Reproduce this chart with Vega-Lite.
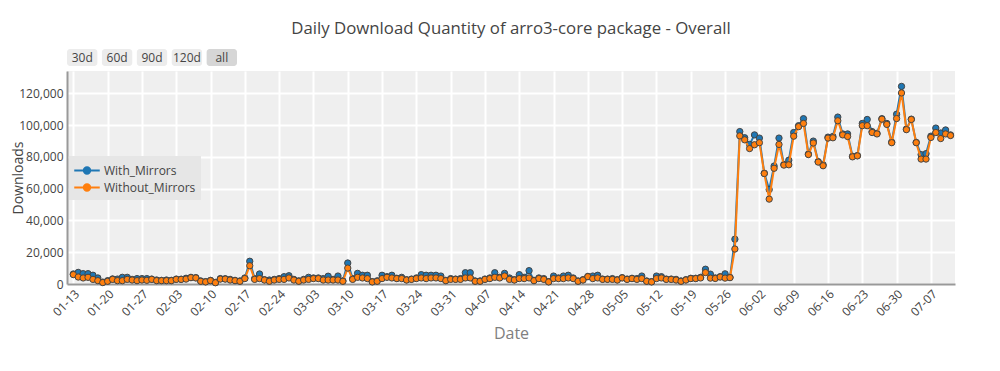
{
"$schema": "https://vega.github.io/schema/vega-lite/v6.json",
"autosize": {"type": "pad"},
"padding": {"left": 11, "top": 21, "right": 45, "bottom": 30},
"background": "white",
"bounds": "flush",
"spacing": 5,
"config": {
  "font": "Open Sans",
  "view": {"stroke": null},
  "axis": {"labelFont": "Open Sans", "labelFontSize": 12, "labelColor": "#444", "ticks": false, "gridColor": "#ffffff", "gridWidth": 2, "domainColor": "#999999", "domainWidth": 2, "titleFont": "Open Sans", "titleFontWeight": "normal"},
  "legend": {"labelFont": "Open Sans", "labelFontSize": 12, "labelColor": "#444"}
},
"vconcat": [
  {
    "width": 170, "height": 17,
    "data": {"values": [
      {"label": "30d", "state": "idle"},
      {"label": "60d", "state": "idle"},
      {"label": "90d", "state": "idle"},
      {"label": "120d", "state": "idle"},
      {"label": "all", "state": "active"}
    ]},
    "encoding": {"x": {"field": "label", "type": "nominal", "sort": null, "axis": null, "scale": {"paddingInner": 0.13, "paddingOuter": 0}}},
    "layer": [
      {"mark": {"type": "bar", "cornerRadius": 3}, "encoding": {"fill": {"field": "state", "type": "nominal", "scale": {"domain": ["idle", "active"], "range": ["#ececec", "#d6d6d6"]}, "legend": null}}},
      {"mark": {"type": "text", "fontSize": 12, "font": "Open Sans", "color": "#444"}, "encoding": {"text": {"field": "label"}}}
    ]
  },
  {
    "width": 888, "height": 213,
    "view": {"fill": "#efefef", "stroke": null},
    "title": {"text": "Daily Download Quantity of arro3-core package - Overall", "anchor": "middle", "frame": "group", "offset": 33, "fontSize": 16.8, "font": "Open Sans", "fontWeight": "normal", "color": "#444"},
    "data": {"values": [
{"date":"2025-01-13","series":"With_Mirrors","downloads":6300},
{"date":"2025-01-14","series":"With_Mirrors","downloads":7300},
{"date":"2025-01-15","series":"With_Mirrors","downloads":6500},
{"date":"2025-01-16","series":"With_Mirrors","downloads":6500},
{"date":"2025-01-17","series":"With_Mirrors","downloads":5500},
{"date":"2025-01-18","series":"With_Mirrors","downloads":3800},
{"date":"2025-01-19","series":"With_Mirrors","downloads":1200},
{"date":"2025-01-20","series":"With_Mirrors","downloads":2100},
{"date":"2025-01-21","series":"With_Mirrors","downloads":3200},
{"date":"2025-01-22","series":"With_Mirrors","downloads":3100},
{"date":"2025-01-23","series":"With_Mirrors","downloads":4200},
{"date":"2025-01-24","series":"With_Mirrors","downloads":4200},
{"date":"2025-01-25","series":"With_Mirrors","downloads":2900},
{"date":"2025-01-26","series":"With_Mirrors","downloads":3400},
{"date":"2025-01-27","series":"With_Mirrors","downloads":3400},
{"date":"2025-01-28","series":"With_Mirrors","downloads":3400},
{"date":"2025-01-29","series":"With_Mirrors","downloads":3100},
{"date":"2025-01-30","series":"With_Mirrors","downloads":2500},
{"date":"2025-01-31","series":"With_Mirrors","downloads":2300},
{"date":"2025-02-01","series":"With_Mirrors","downloads":2500},
{"date":"2025-02-02","series":"With_Mirrors","downloads":2300},
{"date":"2025-02-03","series":"With_Mirrors","downloads":3100},
{"date":"2025-02-04","series":"With_Mirrors","downloads":3000},
{"date":"2025-02-05","series":"With_Mirrors","downloads":3600},
{"date":"2025-02-06","series":"With_Mirrors","downloads":4200},
{"date":"2025-02-07","series":"With_Mirrors","downloads":4000},
{"date":"2025-02-08","series":"With_Mirrors","downloads":1900},
{"date":"2025-02-09","series":"With_Mirrors","downloads":1500},
{"date":"2025-02-10","series":"With_Mirrors","downloads":2300},
{"date":"2025-02-11","series":"With_Mirrors","downloads":1000},
{"date":"2025-02-12","series":"With_Mirrors","downloads":3400},
{"date":"2025-02-13","series":"With_Mirrors","downloads":3300},
{"date":"2025-02-14","series":"With_Mirrors","downloads":2900},
{"date":"2025-02-15","series":"With_Mirrors","downloads":2300},
{"date":"2025-02-16","series":"With_Mirrors","downloads":1900},
{"date":"2025-02-17","series":"With_Mirrors","downloads":3800},
{"date":"2025-02-18","series":"With_Mirrors","downloads":14300},
{"date":"2025-02-19","series":"With_Mirrors","downloads":3400},
{"date":"2025-02-20","series":"With_Mirrors","downloads":6300},
{"date":"2025-02-21","series":"With_Mirrors","downloads":2700},
{"date":"2025-02-22","series":"With_Mirrors","downloads":2500},
{"date":"2025-02-23","series":"With_Mirrors","downloads":2900},
{"date":"2025-02-24","series":"With_Mirrors","downloads":3400},
{"date":"2025-02-25","series":"With_Mirrors","downloads":4600},
{"date":"2025-02-26","series":"With_Mirrors","downloads":5200},
{"date":"2025-02-27","series":"With_Mirrors","downloads":2900},
{"date":"2025-02-28","series":"With_Mirrors","downloads":2000},
{"date":"2025-03-01","series":"With_Mirrors","downloads":2900},
{"date":"2025-03-02","series":"With_Mirrors","downloads":4200},
{"date":"2025-03-03","series":"With_Mirrors","downloads":3800},
{"date":"2025-03-04","series":"With_Mirrors","downloads":3800},
{"date":"2025-03-05","series":"With_Mirrors","downloads":3400},
{"date":"2025-03-06","series":"With_Mirrors","downloads":4900},
{"date":"2025-03-07","series":"With_Mirrors","downloads":2900},
{"date":"2025-03-08","series":"With_Mirrors","downloads":5000},
{"date":"2025-03-09","series":"With_Mirrors","downloads":2000},
{"date":"2025-03-10","series":"With_Mirrors","downloads":13200},
{"date":"2025-03-11","series":"With_Mirrors","downloads":3400},
{"date":"2025-03-12","series":"With_Mirrors","downloads":6700},
{"date":"2025-03-13","series":"With_Mirrors","downloads":5500},
{"date":"2025-03-14","series":"With_Mirrors","downloads":5500},
{"date":"2025-03-15","series":"With_Mirrors","downloads":1500},
{"date":"2025-03-16","series":"With_Mirrors","downloads":2000},
{"date":"2025-03-17","series":"With_Mirrors","downloads":5500},
{"date":"2025-03-18","series":"With_Mirrors","downloads":4600},
{"date":"2025-03-19","series":"With_Mirrors","downloads":5500},
{"date":"2025-03-20","series":"With_Mirrors","downloads":3600},
{"date":"2025-03-21","series":"With_Mirrors","downloads":4200},
{"date":"2025-03-22","series":"With_Mirrors","downloads":2700},
{"date":"2025-03-23","series":"With_Mirrors","downloads":3100},
{"date":"2025-03-24","series":"With_Mirrors","downloads":3800},
{"date":"2025-03-25","series":"With_Mirrors","downloads":5900},
{"date":"2025-03-26","series":"With_Mirrors","downloads":5500},
{"date":"2025-03-27","series":"With_Mirrors","downloads":5500},
{"date":"2025-03-28","series":"With_Mirrors","downloads":5500},
{"date":"2025-03-29","series":"With_Mirrors","downloads":5000},
{"date":"2025-03-30","series":"With_Mirrors","downloads":2300},
{"date":"2025-03-31","series":"With_Mirrors","downloads":3400},
{"date":"2025-04-01","series":"With_Mirrors","downloads":3100},
{"date":"2025-04-02","series":"With_Mirrors","downloads":3400},
{"date":"2025-04-03","series":"With_Mirrors","downloads":7100},
{"date":"2025-04-04","series":"With_Mirrors","downloads":7100},
{"date":"2025-04-05","series":"With_Mirrors","downloads":1900},
{"date":"2025-04-06","series":"With_Mirrors","downloads":1900},
{"date":"2025-04-07","series":"With_Mirrors","downloads":3100},
{"date":"2025-04-08","series":"With_Mirrors","downloads":3800},
{"date":"2025-04-09","series":"With_Mirrors","downloads":7100},
{"date":"2025-04-10","series":"With_Mirrors","downloads":4200},
{"date":"2025-04-11","series":"With_Mirrors","downloads":6700},
{"date":"2025-04-12","series":"With_Mirrors","downloads":3800},
{"date":"2025-04-13","series":"With_Mirrors","downloads":2700},
{"date":"2025-04-14","series":"With_Mirrors","downloads":5900},
{"date":"2025-04-15","series":"With_Mirrors","downloads":4200},
{"date":"2025-04-16","series":"With_Mirrors","downloads":8400},
{"date":"2025-04-17","series":"With_Mirrors","downloads":2300},
{"date":"2025-04-18","series":"With_Mirrors","downloads":3800},
{"date":"2025-04-19","series":"With_Mirrors","downloads":3400},
{"date":"2025-04-20","series":"With_Mirrors","downloads":1500},
{"date":"2025-04-21","series":"With_Mirrors","downloads":5000},
{"date":"2025-04-22","series":"With_Mirrors","downloads":3800},
{"date":"2025-04-23","series":"With_Mirrors","downloads":5000},
{"date":"2025-04-24","series":"With_Mirrors","downloads":5500},
{"date":"2025-04-25","series":"With_Mirrors","downloads":3800},
{"date":"2025-04-26","series":"With_Mirrors","downloads":1900},
{"date":"2025-04-27","series":"With_Mirrors","downloads":2700},
{"date":"2025-04-28","series":"With_Mirrors","downloads":4800},
{"date":"2025-04-29","series":"With_Mirrors","downloads":5000},
{"date":"2025-04-30","series":"With_Mirrors","downloads":5500},
{"date":"2025-05-01","series":"With_Mirrors","downloads":3100},
{"date":"2025-05-02","series":"With_Mirrors","downloads":3100},
{"date":"2025-05-03","series":"With_Mirrors","downloads":3400},
{"date":"2025-05-04","series":"With_Mirrors","downloads":2700},
{"date":"2025-05-05","series":"With_Mirrors","downloads":4000},
{"date":"2025-05-06","series":"With_Mirrors","downloads":3100},
{"date":"2025-05-07","series":"With_Mirrors","downloads":3600},
{"date":"2025-05-08","series":"With_Mirrors","downloads":3400},
{"date":"2025-05-09","series":"With_Mirrors","downloads":5000},
{"date":"2025-05-10","series":"With_Mirrors","downloads":1900},
{"date":"2025-05-11","series":"With_Mirrors","downloads":1500},
{"date":"2025-05-12","series":"With_Mirrors","downloads":5000},
{"date":"2025-05-13","series":"With_Mirrors","downloads":4600},
{"date":"2025-05-14","series":"With_Mirrors","downloads":3100},
{"date":"2025-05-15","series":"With_Mirrors","downloads":3100},
{"date":"2025-05-16","series":"With_Mirrors","downloads":2900},
{"date":"2025-05-17","series":"With_Mirrors","downloads":1900},
{"date":"2025-05-18","series":"With_Mirrors","downloads":2700},
{"date":"2025-05-19","series":"With_Mirrors","downloads":3600},
{"date":"2025-05-20","series":"With_Mirrors","downloads":3600},
{"date":"2025-05-21","series":"With_Mirrors","downloads":4200},
{"date":"2025-05-22","series":"With_Mirrors","downloads":9300},
{"date":"2025-05-23","series":"With_Mirrors","downloads":6200},
{"date":"2025-05-24","series":"With_Mirrors","downloads":3800},
{"date":"2025-05-25","series":"With_Mirrors","downloads":4600},
{"date":"2025-05-26","series":"With_Mirrors","downloads":6400},
{"date":"2025-05-27","series":"With_Mirrors","downloads":4200},
{"date":"2025-05-28","series":"With_Mirrors","downloads":28200},
{"date":"2025-05-29","series":"With_Mirrors","downloads":95900},
{"date":"2025-05-30","series":"With_Mirrors","downloads":92000},
{"date":"2025-05-31","series":"With_Mirrors","downloads":87800},
{"date":"2025-06-01","series":"With_Mirrors","downloads":93800},
{"date":"2025-06-02","series":"With_Mirrors","downloads":91800},
{"date":"2025-06-03","series":"With_Mirrors","downloads":69700},
{"date":"2025-06-04","series":"With_Mirrors","downloads":59400},
{"date":"2025-06-05","series":"With_Mirrors","downloads":74200},
{"date":"2025-06-06","series":"With_Mirrors","downloads":91800},
{"date":"2025-06-07","series":"With_Mirrors","downloads":75200},
{"date":"2025-06-08","series":"With_Mirrors","downloads":77900},
{"date":"2025-06-09","series":"With_Mirrors","downloads":95300},
{"date":"2025-06-10","series":"With_Mirrors","downloads":99600},
{"date":"2025-06-11","series":"With_Mirrors","downloads":104000},
{"date":"2025-06-12","series":"With_Mirrors","downloads":81800},
{"date":"2025-06-13","series":"With_Mirrors","downloads":89900},
{"date":"2025-06-14","series":"With_Mirrors","downloads":77000},
{"date":"2025-06-15","series":"With_Mirrors","downloads":75000},
{"date":"2025-06-16","series":"With_Mirrors","downloads":92400},
{"date":"2025-06-17","series":"With_Mirrors","downloads":92800},
{"date":"2025-06-18","series":"With_Mirrors","downloads":105000},
{"date":"2025-06-19","series":"With_Mirrors","downloads":94400},
{"date":"2025-06-20","series":"With_Mirrors","downloads":94400},
{"date":"2025-06-21","series":"With_Mirrors","downloads":80400},
{"date":"2025-06-22","series":"With_Mirrors","downloads":80800},
{"date":"2025-06-23","series":"With_Mirrors","downloads":101000},
{"date":"2025-06-24","series":"With_Mirrors","downloads":103500},
{"date":"2025-06-25","series":"With_Mirrors","downloads":95900},
{"date":"2025-06-26","series":"With_Mirrors","downloads":94800},
{"date":"2025-06-27","series":"With_Mirrors","downloads":104000},
{"date":"2025-06-28","series":"With_Mirrors","downloads":101000},
{"date":"2025-06-29","series":"With_Mirrors","downloads":89300},
{"date":"2025-06-30","series":"With_Mirrors","downloads":106800},
{"date":"2025-07-01","series":"With_Mirrors","downloads":124300},
{"date":"2025-07-02","series":"With_Mirrors","downloads":97500},
{"date":"2025-07-03","series":"With_Mirrors","downloads":103700},
{"date":"2025-07-04","series":"With_Mirrors","downloads":89100},
{"date":"2025-07-05","series":"With_Mirrors","downloads":81400},
{"date":"2025-07-06","series":"With_Mirrors","downloads":82000},
{"date":"2025-07-07","series":"With_Mirrors","downloads":93000},
{"date":"2025-07-08","series":"With_Mirrors","downloads":98100},
{"date":"2025-07-09","series":"With_Mirrors","downloads":95000},
{"date":"2025-07-10","series":"With_Mirrors","downloads":96900},
{"date":"2025-07-11","series":"With_Mirrors","downloads":93800},
{"date":"2025-01-13","series":"Without_Mirrors","downloads":5900},
{"date":"2025-01-14","series":"Without_Mirrors","downloads":4400},
{"date":"2025-01-15","series":"Without_Mirrors","downloads":3800},
{"date":"2025-01-16","series":"Without_Mirrors","downloads":4200},
{"date":"2025-01-17","series":"Without_Mirrors","downloads":2900},
{"date":"2025-01-18","series":"Without_Mirrors","downloads":2100},
{"date":"2025-01-19","series":"Without_Mirrors","downloads":900},
{"date":"2025-01-20","series":"Without_Mirrors","downloads":1700},
{"date":"2025-01-21","series":"Without_Mirrors","downloads":2900},
{"date":"2025-01-22","series":"Without_Mirrors","downloads":2100},
{"date":"2025-01-23","series":"Without_Mirrors","downloads":2100},
{"date":"2025-01-24","series":"Without_Mirrors","downloads":2900},
{"date":"2025-01-25","series":"Without_Mirrors","downloads":2500},
{"date":"2025-01-26","series":"Without_Mirrors","downloads":2100},
{"date":"2025-01-27","series":"Without_Mirrors","downloads":2500},
{"date":"2025-01-28","series":"Without_Mirrors","downloads":2300},
{"date":"2025-01-29","series":"Without_Mirrors","downloads":2900},
{"date":"2025-01-30","series":"Without_Mirrors","downloads":2100},
{"date":"2025-01-31","series":"Without_Mirrors","downloads":2100},
{"date":"2025-02-01","series":"Without_Mirrors","downloads":2100},
{"date":"2025-02-02","series":"Without_Mirrors","downloads":2100},
{"date":"2025-02-03","series":"Without_Mirrors","downloads":2900},
{"date":"2025-02-04","series":"Without_Mirrors","downloads":2900},
{"date":"2025-02-05","series":"Without_Mirrors","downloads":3100},
{"date":"2025-02-06","series":"Without_Mirrors","downloads":4000},
{"date":"2025-02-07","series":"Without_Mirrors","downloads":3800},
{"date":"2025-02-08","series":"Without_Mirrors","downloads":1700},
{"date":"2025-02-09","series":"Without_Mirrors","downloads":1300},
{"date":"2025-02-10","series":"Without_Mirrors","downloads":2100},
{"date":"2025-02-11","series":"Without_Mirrors","downloads":800},
{"date":"2025-02-12","series":"Without_Mirrors","downloads":3100},
{"date":"2025-02-13","series":"Without_Mirrors","downloads":3100},
{"date":"2025-02-14","series":"Without_Mirrors","downloads":2500},
{"date":"2025-02-15","series":"Without_Mirrors","downloads":2100},
{"date":"2025-02-16","series":"Without_Mirrors","downloads":1700},
{"date":"2025-02-17","series":"Without_Mirrors","downloads":3400},
{"date":"2025-02-18","series":"Without_Mirrors","downloads":11500},
{"date":"2025-02-19","series":"Without_Mirrors","downloads":2900},
{"date":"2025-02-20","series":"Without_Mirrors","downloads":3400},
{"date":"2025-02-21","series":"Without_Mirrors","downloads":2500},
{"date":"2025-02-22","series":"Without_Mirrors","downloads":1700},
{"date":"2025-02-23","series":"Without_Mirrors","downloads":2500},
{"date":"2025-02-24","series":"Without_Mirrors","downloads":2900},
{"date":"2025-02-25","series":"Without_Mirrors","downloads":2900},
{"date":"2025-02-26","series":"Without_Mirrors","downloads":3800},
{"date":"2025-02-27","series":"Without_Mirrors","downloads":2500},
{"date":"2025-02-28","series":"Without_Mirrors","downloads":1700},
{"date":"2025-03-01","series":"Without_Mirrors","downloads":2500},
{"date":"2025-03-02","series":"Without_Mirrors","downloads":2900},
{"date":"2025-03-03","series":"Without_Mirrors","downloads":3400},
{"date":"2025-03-04","series":"Without_Mirrors","downloads":3400},
{"date":"2025-03-05","series":"Without_Mirrors","downloads":2500},
{"date":"2025-03-06","series":"Without_Mirrors","downloads":2500},
{"date":"2025-03-07","series":"Without_Mirrors","downloads":2500},
{"date":"2025-03-08","series":"Without_Mirrors","downloads":2500},
{"date":"2025-03-09","series":"Without_Mirrors","downloads":1700},
{"date":"2025-03-10","series":"Without_Mirrors","downloads":10000},
{"date":"2025-03-11","series":"Without_Mirrors","downloads":2900},
{"date":"2025-03-12","series":"Without_Mirrors","downloads":4200},
{"date":"2025-03-13","series":"Without_Mirrors","downloads":3800},
{"date":"2025-03-14","series":"Without_Mirrors","downloads":3400},
{"date":"2025-03-15","series":"Without_Mirrors","downloads":1300},
{"date":"2025-03-16","series":"Without_Mirrors","downloads":1700},
{"date":"2025-03-17","series":"Without_Mirrors","downloads":3400},
{"date":"2025-03-18","series":"Without_Mirrors","downloads":4200},
{"date":"2025-03-19","series":"Without_Mirrors","downloads":3800},
{"date":"2025-03-20","series":"Without_Mirrors","downloads":3400},
{"date":"2025-03-21","series":"Without_Mirrors","downloads":3400},
{"date":"2025-03-22","series":"Without_Mirrors","downloads":2500},
{"date":"2025-03-23","series":"Without_Mirrors","downloads":2900},
{"date":"2025-03-24","series":"Without_Mirrors","downloads":3400},
{"date":"2025-03-25","series":"Without_Mirrors","downloads":3800},
{"date":"2025-03-26","series":"Without_Mirrors","downloads":3400},
{"date":"2025-03-27","series":"Without_Mirrors","downloads":3800},
{"date":"2025-03-28","series":"Without_Mirrors","downloads":3800},
{"date":"2025-03-29","series":"Without_Mirrors","downloads":3400},
{"date":"2025-03-30","series":"Without_Mirrors","downloads":2100},
{"date":"2025-03-31","series":"Without_Mirrors","downloads":2900},
{"date":"2025-04-01","series":"Without_Mirrors","downloads":2900},
{"date":"2025-04-02","series":"Without_Mirrors","downloads":2900},
{"date":"2025-04-03","series":"Without_Mirrors","downloads":3800},
{"date":"2025-04-04","series":"Without_Mirrors","downloads":3800},
{"date":"2025-04-05","series":"Without_Mirrors","downloads":1700},
{"date":"2025-04-06","series":"Without_Mirrors","downloads":1700},
{"date":"2025-04-07","series":"Without_Mirrors","downloads":2900},
{"date":"2025-04-08","series":"Without_Mirrors","downloads":3400},
{"date":"2025-04-09","series":"Without_Mirrors","downloads":4200},
{"date":"2025-04-10","series":"Without_Mirrors","downloads":3800},
{"date":"2025-04-11","series":"Without_Mirrors","downloads":5000},
{"date":"2025-04-12","series":"Without_Mirrors","downloads":2900},
{"date":"2025-04-13","series":"Without_Mirrors","downloads":2500},
{"date":"2025-04-14","series":"Without_Mirrors","downloads":3400},
{"date":"2025-04-15","series":"Without_Mirrors","downloads":3400},
{"date":"2025-04-16","series":"Without_Mirrors","downloads":3800},
{"date":"2025-04-17","series":"Without_Mirrors","downloads":2100},
{"date":"2025-04-18","series":"Without_Mirrors","downloads":3400},
{"date":"2025-04-19","series":"Without_Mirrors","downloads":2900},
{"date":"2025-04-20","series":"Without_Mirrors","downloads":1300},
{"date":"2025-04-21","series":"Without_Mirrors","downloads":3400},
{"date":"2025-04-22","series":"Without_Mirrors","downloads":3400},
{"date":"2025-04-23","series":"Without_Mirrors","downloads":3400},
{"date":"2025-04-24","series":"Without_Mirrors","downloads":3800},
{"date":"2025-04-25","series":"Without_Mirrors","downloads":3400},
{"date":"2025-04-26","series":"Without_Mirrors","downloads":1700},
{"date":"2025-04-27","series":"Without_Mirrors","downloads":2500},
{"date":"2025-04-28","series":"Without_Mirrors","downloads":4600},
{"date":"2025-04-29","series":"Without_Mirrors","downloads":3400},
{"date":"2025-04-30","series":"Without_Mirrors","downloads":3800},
{"date":"2025-05-01","series":"Without_Mirrors","downloads":2900},
{"date":"2025-05-02","series":"Without_Mirrors","downloads":2900},
{"date":"2025-05-03","series":"Without_Mirrors","downloads":2900},
{"date":"2025-05-04","series":"Without_Mirrors","downloads":2500},
{"date":"2025-05-05","series":"Without_Mirrors","downloads":3800},
{"date":"2025-05-06","series":"Without_Mirrors","downloads":2900},
{"date":"2025-05-07","series":"Without_Mirrors","downloads":3400},
{"date":"2025-05-08","series":"Without_Mirrors","downloads":2900},
{"date":"2025-05-09","series":"Without_Mirrors","downloads":3400},
{"date":"2025-05-10","series":"Without_Mirrors","downloads":1700},
{"date":"2025-05-11","series":"Without_Mirrors","downloads":1300},
{"date":"2025-05-12","series":"Without_Mirrors","downloads":3400},
{"date":"2025-05-13","series":"Without_Mirrors","downloads":3800},
{"date":"2025-05-14","series":"Without_Mirrors","downloads":2900},
{"date":"2025-05-15","series":"Without_Mirrors","downloads":2900},
{"date":"2025-05-16","series":"Without_Mirrors","downloads":2500},
{"date":"2025-05-17","series":"Without_Mirrors","downloads":1700},
{"date":"2025-05-18","series":"Without_Mirrors","downloads":2500},
{"date":"2025-05-19","series":"Without_Mirrors","downloads":3400},
{"date":"2025-05-20","series":"Without_Mirrors","downloads":3400},
{"date":"2025-05-21","series":"Without_Mirrors","downloads":3800},
{"date":"2025-05-22","series":"Without_Mirrors","downloads":7200},
{"date":"2025-05-23","series":"Without_Mirrors","downloads":3700},
{"date":"2025-05-24","series":"Without_Mirrors","downloads":3500},
{"date":"2025-05-25","series":"Without_Mirrors","downloads":4400},
{"date":"2025-05-26","series":"Without_Mirrors","downloads":3700},
{"date":"2025-05-27","series":"Without_Mirrors","downloads":4000},
{"date":"2025-05-28","series":"Without_Mirrors","downloads":22000},
{"date":"2025-05-29","series":"Without_Mirrors","downloads":93200},
{"date":"2025-05-30","series":"Without_Mirrors","downloads":90700},
{"date":"2025-05-31","series":"Without_Mirrors","downloads":85200},
{"date":"2025-06-01","series":"Without_Mirrors","downloads":87600},
{"date":"2025-06-02","series":"Without_Mirrors","downloads":88900},
{"date":"2025-06-03","series":"Without_Mirrors","downloads":69500},
{"date":"2025-06-04","series":"Without_Mirrors","downloads":53400},
{"date":"2025-06-05","series":"Without_Mirrors","downloads":72800},
{"date":"2025-06-06","series":"Without_Mirrors","downloads":87800},
{"date":"2025-06-07","series":"Without_Mirrors","downloads":74800},
{"date":"2025-06-08","series":"Without_Mirrors","downloads":75000},
{"date":"2025-06-09","series":"Without_Mirrors","downloads":93000},
{"date":"2025-06-10","series":"Without_Mirrors","downloads":99000},
{"date":"2025-06-11","series":"Without_Mirrors","downloads":101000},
{"date":"2025-06-12","series":"Without_Mirrors","downloads":81400},
{"date":"2025-06-13","series":"Without_Mirrors","downloads":88700},
{"date":"2025-06-14","series":"Without_Mirrors","downloads":76700},
{"date":"2025-06-15","series":"Without_Mirrors","downloads":74400},
{"date":"2025-06-16","series":"Without_Mirrors","downloads":91800},
{"date":"2025-06-17","series":"Without_Mirrors","downloads":92000},
{"date":"2025-06-18","series":"Without_Mirrors","downloads":102700},
{"date":"2025-06-19","series":"Without_Mirrors","downloads":93800},
{"date":"2025-06-20","series":"Without_Mirrors","downloads":92800},
{"date":"2025-06-21","series":"Without_Mirrors","downloads":80000},
{"date":"2025-06-22","series":"Without_Mirrors","downloads":80600},
{"date":"2025-06-23","series":"Without_Mirrors","downloads":99600},
{"date":"2025-06-24","series":"Without_Mirrors","downloads":99600},
{"date":"2025-06-25","series":"Without_Mirrors","downloads":95300},
{"date":"2025-06-26","series":"Without_Mirrors","downloads":94400},
{"date":"2025-06-27","series":"Without_Mirrors","downloads":103700},
{"date":"2025-06-28","series":"Without_Mirrors","downloads":100400},
{"date":"2025-06-29","series":"Without_Mirrors","downloads":88900},
{"date":"2025-06-30","series":"Without_Mirrors","downloads":104100},
{"date":"2025-07-01","series":"Without_Mirrors","downloads":120200},
{"date":"2025-07-02","series":"Without_Mirrors","downloads":97100},
{"date":"2025-07-03","series":"Without_Mirrors","downloads":103500},
{"date":"2025-07-04","series":"Without_Mirrors","downloads":88900},
{"date":"2025-07-05","series":"Without_Mirrors","downloads":78600},
{"date":"2025-07-06","series":"Without_Mirrors","downloads":78600},
{"date":"2025-07-07","series":"Without_Mirrors","downloads":92200},
{"date":"2025-07-08","series":"Without_Mirrors","downloads":95300},
{"date":"2025-07-09","series":"Without_Mirrors","downloads":91500},
{"date":"2025-07-10","series":"Without_Mirrors","downloads":94400},
{"date":"2025-07-11","series":"Without_Mirrors","downloads":93400}
    ]},
    "encoding": {
      "x": {"field": "date", "type": "temporal",
        "scale": {"type": "utc", "domain": [{"year": 2025, "month": 1, "date": 11, "hours": 17, "utc": true}, {"year": 2025, "month": 7, "date": 11, "hours": 22, "utc": true}]},
        "axis": {"format": "%m-%d", "labelAngle": -45, "labelPadding": 4, "title": "Date", "titleColor": "#808080", "titleFontSize": 16, "titlePadding": 8,
          "values": [
            {"year": 2025, "month": 1, "date": 13, "utc": true},
            {"year": 2025, "month": 1, "date": 20, "utc": true},
            {"year": 2025, "month": 1, "date": 27, "utc": true},
            {"year": 2025, "month": 2, "date": 3, "utc": true},
            {"year": 2025, "month": 2, "date": 10, "utc": true},
            {"year": 2025, "month": 2, "date": 17, "utc": true},
            {"year": 2025, "month": 2, "date": 24, "utc": true},
            {"year": 2025, "month": 3, "date": 3, "utc": true},
            {"year": 2025, "month": 3, "date": 10, "utc": true},
            {"year": 2025, "month": 3, "date": 17, "utc": true},
            {"year": 2025, "month": 3, "date": 24, "utc": true},
            {"year": 2025, "month": 3, "date": 31, "utc": true},
            {"year": 2025, "month": 4, "date": 7, "utc": true},
            {"year": 2025, "month": 4, "date": 14, "utc": true},
            {"year": 2025, "month": 4, "date": 21, "utc": true},
            {"year": 2025, "month": 4, "date": 28, "utc": true},
            {"year": 2025, "month": 5, "date": 5, "utc": true},
            {"year": 2025, "month": 5, "date": 12, "utc": true},
            {"year": 2025, "month": 5, "date": 19, "utc": true},
            {"year": 2025, "month": 5, "date": 26, "utc": true},
            {"year": 2025, "month": 6, "date": 2, "utc": true},
            {"year": 2025, "month": 6, "date": 9, "utc": true},
            {"year": 2025, "month": 6, "date": 16, "utc": true},
            {"year": 2025, "month": 6, "date": 23, "utc": true},
            {"year": 2025, "month": 6, "date": 30, "utc": true},
            {"year": 2025, "month": 7, "date": 7, "utc": true}
          ]}},
      "y": {"field": "downloads", "type": "quantitative",
        "scale": {"domain": [0, 134000], "nice": false, "zero": true},
        "axis": {"values": [0, 20000, 40000, 60000, 80000, 100000, 120000], "format": ",d", "title": "Downloads", "titleColor": "#444", "titleFontSize": 14, "labelPadding": 4, "titlePadding": -7}},
      "color": {"field": "series", "type": "nominal",
        "scale": {"domain": ["With_Mirrors", "Without_Mirrors"], "range": ["#1f77b4", "#ff7f0e"]},
        "legend": {"title": null, "orient": "none", "legendX": 2, "legendY": 107, "fillColor": "#e6e6e6", "padding": 5,
          "symbolType": "M-1.5,0L-0.45,0M0.45,0L1.5,0M0.38,0A0.38,0.38 0 1,1 -0.38,0A0.38,0.38 0 1,1 0.38,0",
          "symbolSize": 289, "symbolStrokeWidth": 2, "symbolOffset": 3.5, "labelOffset": 7.5, "rowPadding": 0}}
    },
    "layer": [
      {"transform": [{"filter": "datum.series === 'With_Mirrors'"}], "mark": {"type": "line", "strokeWidth": 2}},
      {"transform": [{"filter": "datum.series === 'With_Mirrors'"}], "mark": {"type": "point", "filled": true, "size": 40, "stroke": "#444", "strokeWidth": 1, "opacity": 1}},
      {"transform": [{"filter": "datum.series === 'Without_Mirrors'"}], "mark": {"type": "line", "strokeWidth": 2}},
      {"transform": [{"filter": "datum.series === 'Without_Mirrors'"}], "mark": {"type": "point", "filled": true, "size": 40, "stroke": "#444", "strokeWidth": 1, "opacity": 1}}
    ]
  }
]
}
